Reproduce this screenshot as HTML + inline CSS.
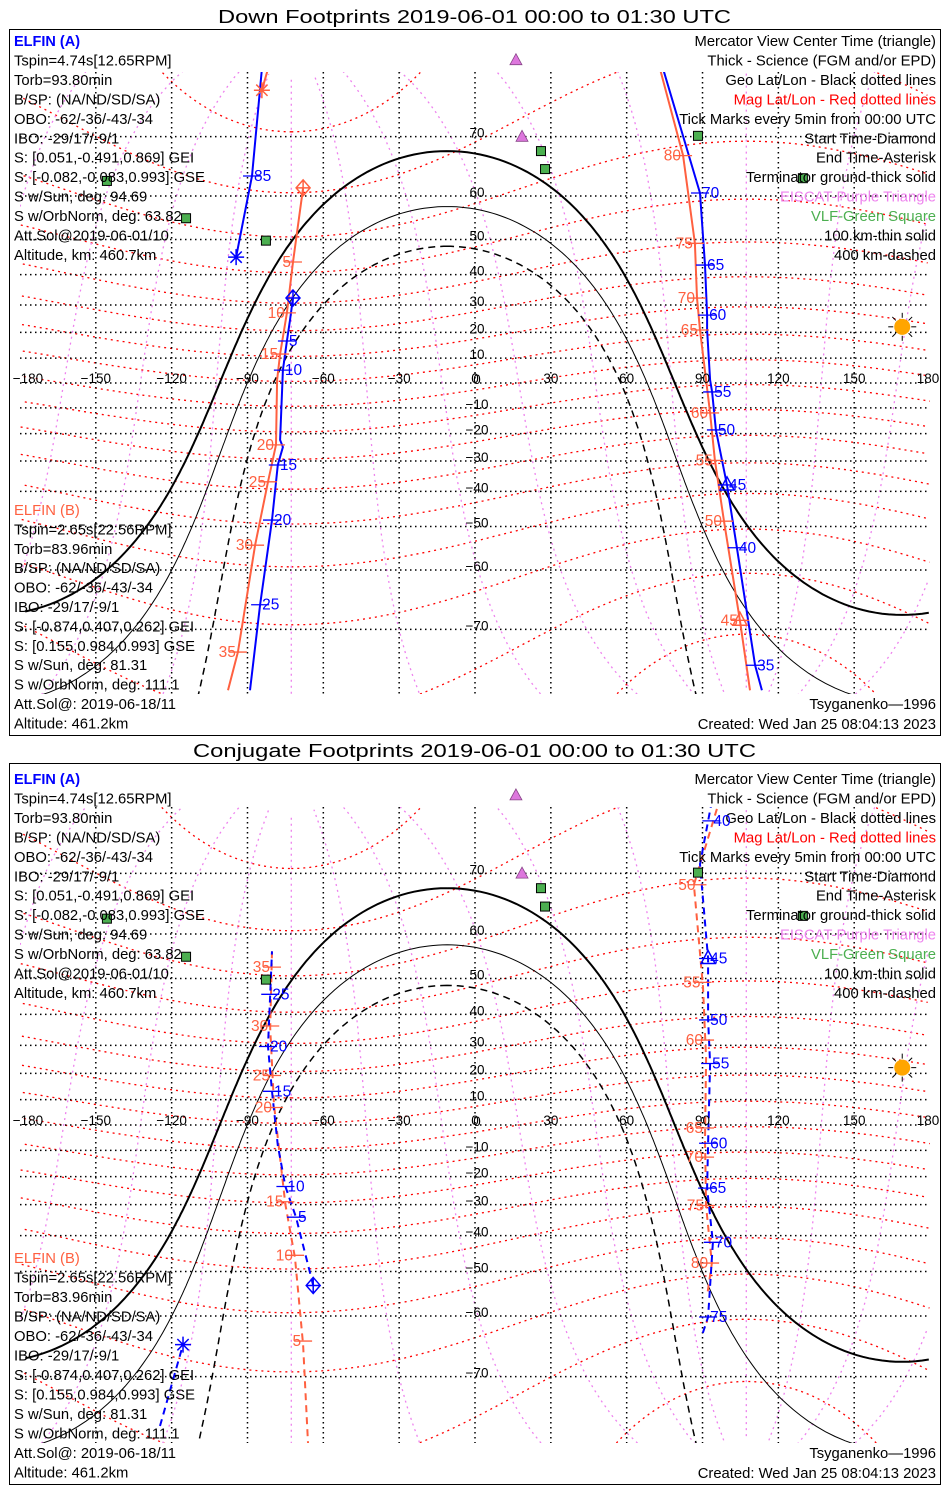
<!DOCTYPE html>
<html><head><meta charset="utf-8"><title>ELFIN Footprints</title>
<style>
html{margin:0;padding:0;width:950px;height:1500px;overflow:hidden;background:#fff;}
body{margin:0;padding:0;background:#fff;width:950px;height:1500px;overflow:hidden;position:relative;}
svg{display:block;position:absolute;left:0;top:0;overflow:hidden;font-family:"Liberation Sans",sans-serif;}
</style></head>
<body>
<svg id="chart" width="950" height="1500" viewBox="0 0 950 1500" xmlns="http://www.w3.org/2000/svg">
<defs>
<clipPath id="clip1"><rect x="20" y="72" width="910" height="622"/></clipPath>
<clipPath id="clip2"><rect x="20" y="807" width="910" height="636"/></clipPath>
</defs>
<rect x="0" y="0" width="950" height="1500" fill="#fff"/>
<text x="218" y="23" font-size="18" textLength="513" lengthAdjust="spacingAndGlyphs">Down Footprints 2019-06-01 00:00 to 01:30 UTC</text>
<rect x="9.5" y="29.5" width="931" height="706" fill="none" stroke="#000"/>
<text x="193" y="757" font-size="18" textLength="563" lengthAdjust="spacingAndGlyphs">Conjugate Footprints 2019-06-01 00:00 to 01:30 UTC</text>
<rect x="9.5" y="763.5" width="931" height="721" fill="none" stroke="#000"/>
<g id="map1" clip-path="url(#clip1)"></g>
<g id="map2" clip-path="url(#clip2)"></g>
<g id="over"></g>
</svg>
<script>
// ---- data ----
const latTicks = [70,60,50,40,30,20,10,0,-10,-20,-30,-40,-50,-60,-70];
const lonTicks = [-180,-150,-120,-90,-60,-30,0,30,60,90,120,150,180];
const subsolarLat = 22.1;
const subsolarLon = 169;
const shadowAngles = [90, 100.1, 109.7];
const magPoleLat = 80.65;
const magPoleLon = -72.68;
const eiscatLat = [78.2, 69.9];
const eiscatLon = [16.2, 18.6];
const vlfLat = [62.9, 55.2, 49.7, 67.9, 65.0, 70.1, 63.4];
const vlfLon = [-145.6, -114.3, -82.7, 26.1, 27.7, 88.2, 129.7];

// Down footprints, ELFIN A
const dA1Lon = [-72,-73.2,-74.4,-76,-77.1,-76,-78,-80.3,-85,-89];
const dA1Lat = [32.4,24.6,16.7,5.2,-22.4,-25,-31.4,-48.3,-66.3,-76.9];
const dA2Lon = [113.5,110.8,103.6,99.7,95.3,93.8,93,91.8,91.8,91,89,74.4];
const dA2Lat = [-76.9,-74.4,-55.2,-38,-18.6,-3.6,1.2,20.9,26.4,42.9,60.6,77.5];
const dA3Lon = [-84.3,-88.2,-94.5];
const dA3Lat = [77.5,63.8,45.2];
const dATickLabel = ['5','10','15','20','25','35','40','45','50','55','60','65','70','85'];
const dATickLat = [16.7,5.2,-31.4,-48.3,-66.3,-74.4,-55.2,-38,-18.6,-3.6,26.4,42.9,60.6,63.8];
const dATickLon = [-74.4,-76,-78,-80.3,-85,110.8,103.6,99.7,95.3,93.8,91.8,91,89,-88.2];
// Down footprints, ELFIN B
const dB1Lon = [-68,-72,-74.4,-77.1,-78.3,-78.7,-81.9,-87,-93.8,-97.7];
const dB1Lat = [61.6,43.8,27.2,11.6,1.2,-24.2,-37,-54.6,-72.9,-76.9];
const dB2Lon = [108.8,104.8,98.5,94.9,93,89,87.8,87,82.3,73.2];
const dB2Lat = [-76.9,-68.7,-48.6,-29.8,-12,20.9,32.4,49,67.2,77.5];
const dB3Lon = [-81.9,-84.3];
const dB3Lat = [77.5,75.5];
const dBTickLabel = ['5','10','15','20','25','30','35','45','50','55','60','65','70','75','80'];
const dBTickLat = [43.8,27.2,11.6,-24.2,-37,-54.6,-72.9,-68.7,-48.6,-29.8,-12,20.9,32.4,49,67.2];
const dBTickLon = [-72,-74.4,-77.1,-78.7,-81.9,-87,-93.8,104.8,98.5,94.9,93,89,87.8,87,82.3];

// Conjugate footprints, ELFIN A
const cA1Lon = [-64,-70.8,-75,-78,-80.3,-81.9,-81,-80.3];
const cA1Lat = [-53.4,-34.2,-23.6,-8,13.2,29.6,45.8,56.4];
const cA2Lon = [93.7,89,92.2,92.2,93,92.2,91.8,94.1,92.2,89.5];
const cA2Lat = [77.8,71.2,54.8,38.3,23.6,-7.2,-24.2,-42,-60.2,-64];
const cA3Lon = [-124.6,-115.5];
const cA3Lat = [-75.7,-65.2];
const cATickLabel = ['5','10','15','20','25','40','45','50','55','60','65','70','75'];
const cATickLat = [-34.2,-23.6,13.2,29.6,45.8,76,54.8,38.3,23.6,-7.2,-24.2,-42,-60.2];
const cATickLon = [-70.8,-75,-80.3,-81.9,-81,93.5,92.2,92.2,93,92.2,91.8,94.1,92.2];
// Conjugate footprints, ELFIN B
const cB1Lon = [-80.3,-81,-79.5,-75,-71.2,-68,-66];
const cB1Lat = [56.4,35.8,8,-30,-46.4,-65.2,-77.6];
const cB2Lon = [95.7,86.6,90.2,91.4,91,91.4,93.7,92];
const cB2Lat = [77.1,68.4,47.8,25.4,-6,-30.6,-47.8,-55];
const cBTickLabel = ['35','30','25','20','15','10','5','50','55','60','65','70','75','80'];
const cBTickLat = [52.8,36.4,19.2,6.9,-29,-45.7,-64.6,68.4,49,31.8,-1.2,-12.6,-30.3,-47.8];
const cBTickLon = [-80.3,-81,-80.3,-79.5,-75,-71.2,-68,88,90,91,91,91,91.4,93];

const leftA = ['Tspin=4.74s[12.65RPM]','Torb=93.80min','B/SP: (NA/ND/SD/SA)','OBO: -62/-36/-43/-34','IBO: -29/17/-9/1','S: [0.051,-0.491,0.869] GEI','S: [-0.082,-0.083,0.993] GSE','S w/Sun, deg: 94.69','S w/OrbNorm, deg: 63.82','Att.Sol@2019-06-01/10','Altitude, km: 460.7km'];
const leftB = ['Tspin=2.65s[22.56RPM]','Torb=83.96min','B/SP: (NA/ND/SD/SA)','OBO: -62/-36/-43/-34','IBO: -29/17/-9/1','S: [-0.874,0.407,0.262] GEI','S: [0.155,0.984,0.993] GSE','S w/Sun, deg: 81.31','S w/OrbNorm, deg: 111.1','Att.Sol@: 2019-06-18/11','Altitude: 461.2km'];
const rightLegend = ['Mercator View Center Time (triangle)','Thick - Science (FGM and/or EPD)','Geo Lat/Lon - Black dotted lines','Mag Lat/Lon - Red dotted lines','Tick Marks every 5min from 00:00 UTC','Start Time-Diamond','End Time-Asterisk','Terminator ground-thick solid','EISCAT-Purple Triangle','VLF-Green Square','100 km-thin solid','400 km-dashed'];
const rightColors = ['#000','#000','#000','#ff0000','#000','#000','#000','#000','#ee82ee','#4caf50','#000','#000'];

// ---- drawing ----
const NS='http://www.w3.org/2000/svg';
const D2R=Math.PI/180;
const FS=14.8;
const P1={eq:383,R:142,top:72,bot:694};
const P2={eq:1125,R:145,top:807,bot:1443};
function X(lon){return 475+lon*2.528;}
function Y(lat,p){return p.eq-p.R*Math.log(Math.tan(Math.PI/4+lat*D2R/2));}
function mk(tag,attrs,parent){const e=document.createElementNS(NS,tag);for(const k in attrs)e.setAttribute(k,attrs[k]);parent.appendChild(e);return e;}
function pathFromGeo(pts,p){
  let d='',prev=null;
  for(const q of pts){
    if(q===null){prev=null;continue;}
    const la=Math.max(-82,Math.min(82,q[1]));
    const x=X(q[0]),y=Y(la,p);
    if(prev===null||Math.abs(q[0]-prev)>180)d+='M'+x.toFixed(1)+' '+y.toFixed(1);
    else d+='L'+x.toFixed(1)+' '+y.toFixed(1);
    prev=q[0];
  }
  return d;
}
function norm(l){while(l>180)l-=360;while(l<-180)l+=360;return l;}
function magToGeo(mlat,mlon){
  const x=Math.cos(mlat*D2R)*Math.cos(mlon*D2R),y=Math.cos(mlat*D2R)*Math.sin(mlon*D2R),z=Math.sin(mlat*D2R);
  const t=(90-magPoleLat)*D2R;
  const x1=x*Math.cos(t)+z*Math.sin(t),z1=-x*Math.sin(t)+z*Math.cos(t);
  const lat=Math.asin(Math.max(-1,Math.min(1,z1)))/D2R;
  const lon=norm(Math.atan2(y,x1)/D2R+magPoleLon);
  return [lon,lat];
}
function smallCircle(theta){
  const pts=[];const d=subsolarLat*D2R,th=theta*D2R;
  for(let a=0;a<=360;a+=1){
    const A=a*D2R;
    const sl=Math.sin(d)*Math.cos(th)+Math.cos(d)*Math.sin(th)*Math.cos(A);
    const lat=Math.asin(sl);
    const dl=Math.atan2(Math.sin(A)*Math.sin(th)*Math.cos(d),Math.cos(th)-Math.sin(d)*sl);
    pts.push([norm(subsolarLon+dl/D2R),lat/D2R]);
  }
  return pts;
}
function zip(lons,lats){return lons.map((l,i)=>[l,lats[i]]);}

function drawMap(g,p,panel,tracks){
  for(let ml=-80;ml<=80;ml+=10){
    const pts=[];for(let m=0;m<=360;m+=2)pts.push(magToGeo(ml,m));
    const e=mk('path',{d:pathFromGeo(pts,p),fill:'none',stroke:'#ff0000','stroke-width':1.3,'stroke-dasharray':'2 4'},g);
    
    
  }
  for(let m=0;m<360;m+=30){
    const pts=[];for(let ml=-86;ml<=86;ml+=2)pts.push(magToGeo(ml,m));
    const e=mk('path',{d:pathFromGeo(pts,p),fill:'none',stroke:'#ee82ee','stroke-width':1.3,'stroke-dasharray':'2 4'},g);
    
    
  }
  for(const la of latTicks){
    const y=Y(la,p);
    const e=mk('line',{x1:20,x2:930,y1:y,y2:y,stroke:'#000','stroke-width':1.5,'stroke-dasharray':'1.5 3.5'},g);
    
    
  }
  for(const lo of lonTicks){
    if(Math.abs(lo)===180)continue;
    const x=X(lo);
    const e=mk('line',{x1:x,x2:x,y1:p.top,y2:p.bot,stroke:'#000','stroke-width':1.5,'stroke-dasharray':'1.5 3.5'},g);
    
    
  }
  const tw=[2,1,1.5],td=['none','none','7 5'];
  const tn=['terminator-ground','terminator-100km','terminator-400km'];
  shadowAngles.forEach((a,i)=>{
    const e=mk('path',{d:pathFromGeo(smallCircle(a),p),fill:'none',stroke:'#000','stroke-width':tw[i],'stroke-dasharray':td[i]},g);
    
    
  });
  tracks.forEach(t=>{
    t.segs.forEach(s=>{
      const e=mk('path',{d:pathFromGeo(s,p),fill:'none',stroke:t.color,'stroke-width':t.w,'stroke-dasharray':t.dash},g);
      
      
    });
  });
}
function drawTicks(o,p,labels,lats,lons,color,side,name){
  labels.forEach((lb,i)=>{
    const x=X(lons[i]),y=Y(lats[i],p);
    const l=mk('line',{x1:x-9,x2:x+9,y1:y,y2:y,stroke:color,'stroke-width':1.3},o);
    
    
    const t=mk('text',{x:side>0?x+2:x-2,y:y+5,'font-size':15.5,fill:color,'text-anchor':side>0?'start':'end'},o);
    t.textContent=lb;
    
    
  });
}
function diamond(o,x,y,c){const e=mk('path',{d:`M${x} ${y-8}L${x+7} ${y}L${x} ${y+8}L${x-7} ${y}Z M${x-7} ${y}H${x+7} M${x} ${y-8}V${y+8}`,fill:'none',stroke:c,'stroke-width':1.5},o);}
function asterisk(o,x,y,c){let d='';for(let a=0;a<180;a+=45){const dx=8*Math.cos(a*D2R),dy=8*Math.sin(a*D2R);d+=`M${x-dx} ${y-dy}L${x+dx} ${y+dy}`;}const e=mk('path',{d,stroke:c,'stroke-width':1.5,fill:'none'},o);}
function triangle(o,x,y,c){const e=mk('path',{d:`M${x} ${y-8}L${x+7} ${y+5}L${x-7} ${y+5}Z`,fill:'none',stroke:c,'stroke-width':1.5},o);}

function drawOverlay(o,p,panel,base){
  latTicks.forEach(la=>{
    const t=mk('text',{x:477,y:Y(la,p)+1,'font-size':13.5,'text-anchor':'middle',fill:'#000'},o);
    t.textContent=String(la).replace('-','\u2212');
    
    
  });
  lonTicks.forEach(lo=>{
    let x=X(lo);if(lo===-180)x=28;if(lo===180)x=928;
    const t=mk('text',{x:x,y:p.eq+0,'font-size':13.5,'text-anchor':'middle',fill:'#000'},o);
    t.textContent=String(lo).replace('-','\u2212');
    
    
  });
  eiscatLat.forEach((la,i)=>{
    const x=X(eiscatLon[i]),y=Y(la,p);
    const e=mk('path',{d:`M${x} ${y-7}L${x+6} ${y+4}L${x-6} ${y+4}Z`,fill:'#dd77dd',stroke:'#884488','stroke-width':0.8},o);
    
    
  });
  vlfLat.forEach((la,i)=>{
    const x=X(vlfLon[i]),y=Y(la,p);
    const e=mk('rect',{x:x-4.5,y:y-4.5,width:9,height:9,fill:'#4caf50',stroke:'#000','stroke-width':1},o);
    
    
  });
  const sx=X(subsolarLon),sy=Y(subsolarLat,p);
  const sg=mk('g',{},o);
  
  
  for(let a=0;a<360;a+=45){const c=Math.cos(a*D2R),s=Math.sin(a*D2R);mk('line',{x1:sx+9*c,y1:sy+9*s,x2:sx+14*c,y2:sy+14*s,stroke:'#000','stroke-width':1},sg);}
  mk('circle',{cx:sx,cy:sy,r:8,fill:'#ffa500'},sg);
  const lh=19.45;
  let t=mk('text',{x:14,y:base+17,'font-size':14.5,'font-weight':'bold',fill:'#0000ff'},o);
  t.textContent='ELFIN (A)';
  leftA.forEach((s,i)=>{const e=mk('text',{x:14,y:base+17+lh*(i+1),'font-size':FS,fill:'#000'},o);e.textContent=s;});
  const bb=panel===1?515:1263;const lhb=panel===1?19.4:19.5;
  t=mk('text',{x:14,y:bb,'font-size':FS,fill:'#ff6040'},o);
  t.textContent='ELFIN (B)';
  leftB.forEach((s,i)=>{const e=mk('text',{x:14,y:bb+lhb*(i+1),'font-size':FS,fill:'#000'},o);e.textContent=s;});
  rightLegend.forEach((s,i)=>{const e=mk('text',{x:936,y:base+17+lh*i,'font-size':FS,fill:rightColors[i],'text-anchor':'end'},o);e.textContent=s;});
  const by=panel===1?709:1458;
  t=mk('text',{x:936,y:by,'font-size':FS,'text-anchor':'end'},o);t.textContent='Tsyganenko\u20141996';
  t=mk('text',{x:936,y:by+20,'font-size':FS,'text-anchor':'end'},o);t.textContent='Created: Wed Jan 25 08:04:13 2023';
}

const m1=document.getElementById('map1'),m2=document.getElementById('map2'),ov=document.getElementById('over');
const BLUE='#0000ff',RED='#ff6040';
drawMap(m1,P1,1,[
  {name:'elfin-b-track',color:RED,w:2,dash:'none',segs:[zip(dB1Lon,dB1Lat),zip(dB2Lon,dB2Lat),zip(dB3Lon,dB3Lat)]},
  {name:'elfin-a-track',color:BLUE,w:2,dash:'none',segs:[zip(dA1Lon,dA1Lat),zip(dA2Lon,dA2Lat),zip(dA3Lon,dA3Lat)]}
]);
drawMap(m2,P2,2,[
  {name:'elfin-b-track',color:RED,w:2,dash:'7 5',segs:[zip(cB1Lon,cB1Lat),zip(cB2Lon,cB2Lat)]},
  {name:'elfin-a-track',color:BLUE,w:2,dash:'7 5',segs:[zip(cA1Lon,cA1Lat),zip(cA2Lon,cA2Lat),zip(cA3Lon,cA3Lat)]}
]);
drawOverlay(ov,P1,1,29);
drawOverlay(ov,P2,2,767);
drawTicks(ov,P1,dBTickLabel,dBTickLat,dBTickLon,RED,-1,'elfin-b');
drawTicks(ov,P1,dATickLabel,dATickLat,dATickLon,BLUE,1,'elfin-a');
drawTicks(ov,P2,cBTickLabel,cBTickLat,cBTickLon,RED,-1,'elfin-b');
drawTicks(ov,P2,cATickLabel,cATickLat,cATickLon,BLUE,1,'elfin-a');
diamond(ov,X(dA1Lon[0]),Y(dA1Lat[0],P1),BLUE);
asterisk(ov,X(dA3Lon[2]),Y(dA3Lat[2],P1),BLUE);
triangle(ov,X(dA2Lon[3]),Y(dA2Lat[3],P1),BLUE);
diamond(ov,X(dB1Lon[0]),Y(dB1Lat[0],P1),RED);
asterisk(ov,X(dB3Lon[1]),Y(dB3Lat[1],P1),RED);
triangle(ov,X(dB2Lon[1]),Y(dB2Lat[1],P1),RED);
diamond(ov,X(cA1Lon[0]),Y(cA1Lat[0],P2),BLUE);
asterisk(ov,X(cA3Lon[1]),Y(cA3Lat[1],P2),BLUE);
triangle(ov,X(cA2Lon[2]),Y(cA2Lat[2],P2),BLUE);
</script>
</body></html>
